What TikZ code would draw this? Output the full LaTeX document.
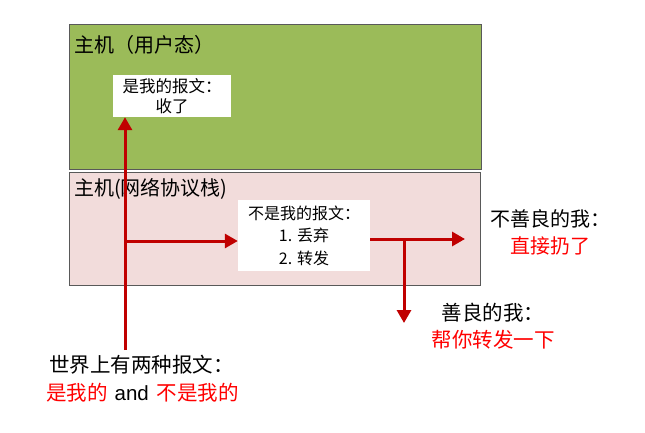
\documentclass[tikz,border=0pt]{standalone}
\usepackage{fontspec}
\setmainfont{Noto Sans CJK SC}
\setsansfont{Liberation Sans}
\usetikzlibrary{arrows.meta}
\definecolor{boxgreen}{HTML}{9BBB59}
\definecolor{boxpink}{HTML}{F2DCDB}
\definecolor{boxedge}{HTML}{595959}
\definecolor{arrred}{HTML}{C00000}
\definecolor{txtred}{HTML}{FF0000}
\tikzset{
  layer/.style={draw=boxedge, line width=1pt},
  whitebox/.style={fill=white, draw=none, align=center, inner sep=0pt},
  redline/.style={draw=arrred, line width=3pt},
  redarrow/.style={redline, -{Triangle[length=13pt,width=14pt]}},
  title/.style={anchor=west, inner sep=0pt, font=\fontsize{20}{22}\selectfont},
  lbl/.style={align=center, inner sep=0pt, font=\fontsize{20}{27}\selectfont},
}
\begin{document}
\begin{tikzpicture}[x=1pt,y=-1pt]
\useasboundingbox (0,0) rectangle (645,433);
\fill[white] (0,0) rectangle (645,433);
% layers
\draw[layer, fill=boxgreen] (69,25) rectangle (481,169);
\draw[layer, fill=boxpink] (69,172) rectangle (480,285);
\node[title] (t1) at (74,45) {主机（用户态）};
\node[title] (t2) at (74,189) {主机(网络协议栈)};
% white boxes
\node[whitebox, minimum width=118pt, minimum height=42pt, font=\fontsize{16.5}{20}\selectfont] (mine) at (172,96) {是我的报文：\\收了};
\node[whitebox, minimum width=132pt, minimum height=71pt, font=\fontsize{16}{22.5}\selectfont] (notmine) at (304,235.5) {不是我的报文：\\1. 丢弃\\2. 转发};
% labels
\node[lbl, align=left, anchor=west, font=\fontsize{20.5}{28}\selectfont] (world) at (46,379) {\hspace{3pt}世界上有两种报文：\\{\color{txtred}是我的}\hspace{7pt}{\sffamily and}\hspace{8pt}{\color{txtred}不是我的}};
\node[lbl] (bad) at (550,232) {不善良的我：\\{\color{txtred}直接扔了}};
\node[lbl, font=\fontsize{20.5}{27}\selectfont] (good) at (493,326.5) {善良的我：\\{\color{txtred}帮你转发一下}};
% connectors
\coordinate (start) at (125,350);
\coordinate (branch) at (125,241);
\coordinate (fork) at (404,239);
\coordinate (badend) at (465,239);
\coordinate (goodend) at (404,323);
\draw[redarrow] (start) -- (start |- mine.south);
\draw[redarrow] (branch) -- (notmine.west |- branch);
\draw[redarrow] (notmine.east |- fork) -- (badend);
\draw[redarrow] (fork) -- (goodend);
\end{tikzpicture}
\end{document}
